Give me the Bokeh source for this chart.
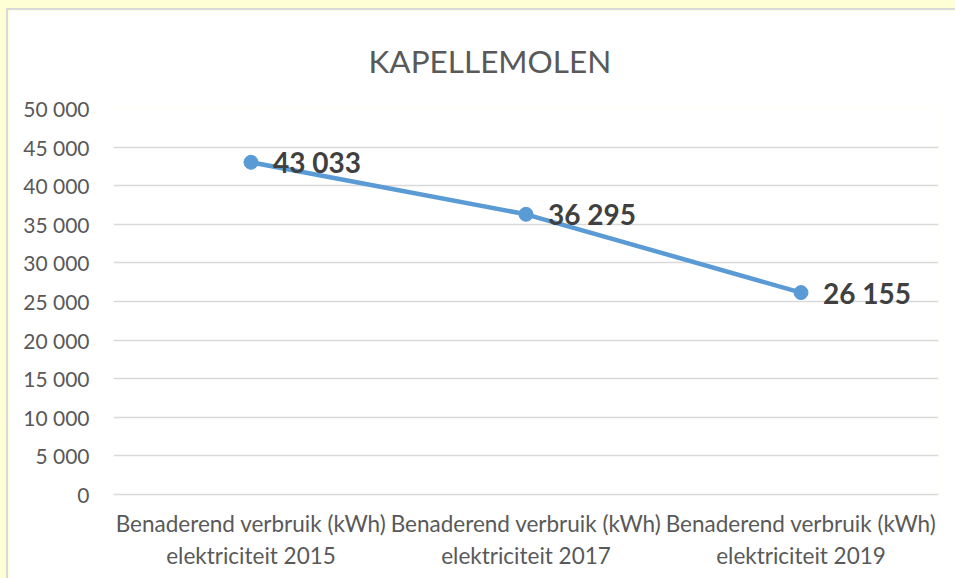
from bokeh.plotting import figure
from bokeh.models import Title, ColumnDataSource, FixedTicker
from bokeh.embed import file_html
from bokeh.resources import INLINE
from bokeh.core.properties import value

categories = [
    "Benaderend verbruik (kWh)\nelektriciteit 2015",
    "Benaderend verbruik (kWh)\nelektriciteit 2017",
    "Benaderend verbruik (kWh)\nelektriciteit 2019",
]
values = [43033, 36295, 26155]
y_ticks = [0, 5000, 10000, 15000, 20000, 25000, 30000, 35000, 40000, 45000, 50000]
y_tick_labels = ["0", "5 000", "10 000", "15 000", "20 000", "25 000",
                 "30 000", "35 000", "40 000", "45 000", "50 000"]
point_labels = [f"{v:,}".replace(",", " ") for v in values]

FONT = "Lato"
GREY = "#595959"
BLUE = "#5B9BD5"

src = ColumnDataSource(dict(x=categories, y=values, lab=point_labels))

p = figure(width=947, height=568, x_range=categories, y_range=(0, 50000),
           output_backend="svg", toolbar_location=None,
           min_border_left=105, min_border_right=17, min_border_top=98,
           min_border_bottom=84)
p.outline_line_color = None
p.background_fill_color = "white"
p.border_fill_color = "white"

t = Title(text="KAPELLEMOLEN", align="left", text_font=FONT,
          text_font_size="31.5px", text_font_style="normal", text_color=GREY,
          offset=255, standoff=53, vertical_align="top")
p.add_layout(t, "above")

p.line("x", "y", source=src, line_color=BLUE, line_width=4.5)
p.scatter("x", "y", source=src, size=14, fill_color=BLUE, line_color=BLUE)
p.text("x", "y", text="lab", source=src, x_offset=22, text_baseline="middle",
       text_align="left", text_font=value(FONT), text_font_size="28px",
       text_font_style="bold", text_color="#404040")

p.xgrid.grid_line_color = None
p.ygrid.grid_line_color = "#D9D9D9"
p.ygrid.grid_line_width = 1.5

p.yaxis.ticker = FixedTicker(ticks=y_ticks)
p.yaxis.major_label_overrides = {t_: l for t_, l in zip(y_ticks, y_tick_labels)}
p.yaxis.axis_line_color = None
p.yaxis.major_tick_line_color = None
p.yaxis.minor_tick_line_color = None
p.yaxis.major_label_standoff = 18
p.yaxis.major_label_text_font = FONT
p.yaxis.major_label_text_font_size = "21px"
p.yaxis.major_label_text_color = GREY

p.xaxis.axis_line_color = "#D9D9D9"
p.xaxis.axis_line_width = 1.5
p.xaxis.major_tick_line_color = None
p.xaxis.major_label_standoff = 9
p.xaxis.major_label_text_font = FONT
p.xaxis.major_label_text_font_size = "22.5px"
p.xaxis.major_label_text_color = GREY
p.xaxis.major_label_text_align = "center"

css = ("<style>html, body { margin: 0; padding: 0; overflow: hidden; } "
       "html { background: #FFFFD5; } "
       "body { padding: 10px 0 0 8px; height: 578px; box-sizing: border-box; "
       "background: linear-gradient(#D9D9D9, #D9D9D9) 6px 8px / 2px 100% no-repeat, "
       "linear-gradient(#D9D9D9, #D9D9D9) 6px 8px / 100% 2px no-repeat, #FFFFD5; }"
       "</style></head>")
html = file_html(p, INLINE)
html = html.replace("</head>", css, 1)
open("out.html", "w").write(html)
